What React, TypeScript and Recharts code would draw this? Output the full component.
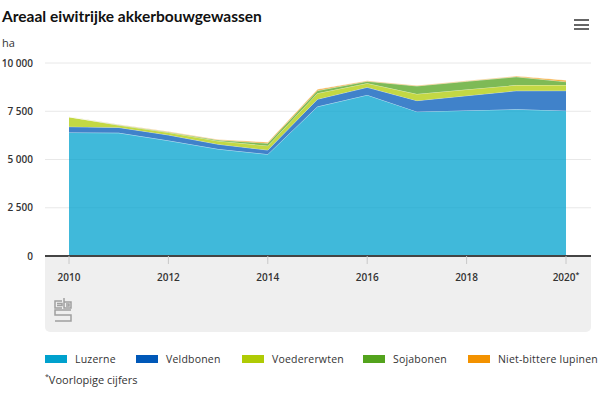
import React from 'react'
import { AreaChart, Area, XAxis, YAxis, CartesianGrid } from 'recharts'

const years = [2010, 2011, 2012, 2013, 2014, 2015, 2016, 2017, 2018, 2019, 2020]
const luzerne = [6400, 6380, 5980, 5540, 5270, 7740, 8340, 7480, 7540, 7600, 7530]
const veldbonen = [300, 280, 290, 250, 220, 385, 400, 570, 765, 960, 1035]
const voedererwten = [510, 120, 130, 170, 225, 310, 210, 345, 325, 295, 295]
const sojabonen = [0, 20, 30, 50, 125, 135, 100, 415, 420, 430, 170]
const lupinen = [0, 10, 20, 30, 60, 70, 35, 30, 30, 35, 80]

const xTicks = [2010, 2012, 2014, 2016, 2018, 2020]
const provisional = [2020]
const yTicks = [0, 2500, 5000, 7500, 10000]

const seriesNames = ['Luzerne', 'Veldbonen', 'Voedererwten', 'Sojabonen', 'Niet-bittere lupinen']
const seriesKeys = ['luzerne', 'veldbonen', 'voedererwten', 'sojabonen', 'lupinen']
const seriesColors = ['#00a1cd', '#0058b8', '#afcb05', '#53a31d', '#f39200']
const legendLeft = [45, 136, 242, 363, 468]

const data = years.map((year, i) => ({
  year,
  luzerne: luzerne[i],
  veldbonen: veldbonen[i],
  voedererwten: voedererwten[i],
  sojabonen: sojabonen[i],
  lupinen: lupinen[i],
}))

const fmt = (v: number) => String(v).replace(/\B(?=(\d{3})+(?!\d))/g, ' ')

const XTick = (props: any) => {
  const { x, y, payload } = props
  const prov = provisional.includes(payload.value)
  return (
    <text x={x} y={y} dy={15} textAnchor="middle" fill="#333" fontSize={10} fontWeight={600} fontFamily="'Open Sans', sans-serif">
      {payload.value}
      {prov && <tspan fontSize={7} dy={-4}>*</tspan>}
    </text>
  )
}

const CbsLogo = () => (
  <svg width={18} height={26} viewBox="0 0 18 26" style={{ position: 'absolute', left: 54, top: 297 }}>
    <g fill="none" stroke="#a0a0a0" strokeWidth={1.5}>
      <path d="M8 4 H1 V11 H8" />
      <path d="M10 1 V11 H17 V5 H10" />
      <path d="M17 13 H1 V18 H17 V24 H1" />
      <path d="M3 6.5 H8 V8.5 H3" />
      <path d="M12 7 H15 V9 H12" />
    </g>
  </svg>
)

export default function App() {
  return (
    <div style={{ position: 'absolute', left: 0, top: 0, width: 600, height: 395, background: '#fff', fontFamily: "'Open Sans', sans-serif", overflow: 'hidden' }}>
      <div style={{ position: 'absolute', left: 2, top: 7, fontFamily: 'Lato, sans-serif', fontWeight: 700, fontSize: 15.5, color: '#111' }}>
        Areaal eiwitrijke akkerbouwgewassen
      </div>
      <div style={{ position: 'absolute', left: 2, top: 35, fontSize: 11, color: '#333' }}>ha</div>
      {[19, 23.5, 28].map((t) => (
        <div key={t} style={{ position: 'absolute', left: 574, top: t, width: 15, height: 2.2, background: '#666' }} />
      ))}
      <div style={{ position: 'absolute', left: 45, top: 256, width: 546, height: 76, background: '#efefef', borderRadius: '0 0 5px 5px' }} />
      <CbsLogo />
      <div style={{ position: 'absolute', left: 0, top: 0 }}>
        <AreaChart width={600} height={332} data={data} margin={{ top: 63, right: 9, bottom: 0, left: 0 }}>
          <CartesianGrid vertical={false} stroke="#e8e8e8" />
          <YAxis
            width={45}
            domain={[0, 10000]}
            ticks={yTicks}
            tickFormatter={fmt}
            axisLine={false}
            tickLine={false}
            tickSize={8}
            tickMargin={4}
            tick={{ fill: '#333', fontSize: 10, fontWeight: 600, fontFamily: "'Open Sans', sans-serif" }}
          />
          <XAxis
            dataKey="year"
            type="number"
            domain={[2010, 2020]}
            ticks={xTicks}
            height={76}
            padding={{ left: 24, right: 25 }}
            axisLine={{ stroke: '#444', strokeWidth: 2 }}
            tickLine={{ stroke: '#c8c8c8' }}
            tickSize={8}
            tickMargin={2}
            tick={<XTick />}
          />
          {seriesKeys.map((k, i) => (
            <Area
              key={k}
              type="linear"
              dataKey={k}
              name={seriesNames[i]}
              stackId="a"
              fill={seriesColors[i]}
              fillOpacity={0.75}
              stroke="#ffffff"
              strokeOpacity={0.55}
              strokeWidth={1}
              dot={false}
              activeDot={false}
              isAnimationActive={false}
            />
          ))}
        </AreaChart>
      </div>
      {seriesNames.map((n, i) => (
        <div key={n} style={{ position: 'absolute', left: legendLeft[i], top: 351, display: 'flex', alignItems: 'center', height: 16 }}>
          <div style={{ width: 22, height: 8, background: seriesColors[i], marginRight: 8 }} />
          <span style={{ fontSize: 10.5, color: '#333', letterSpacing: 0.2, whiteSpace: 'nowrap' }}>{n}</span>
        </div>
      ))}
      <div style={{ position: 'absolute', left: 45, top: 372, fontSize: 11, color: '#333' }}>
        <sup style={{ fontSize: 7 }}>*</sup>Voorlopige cijfers
      </div>
    </div>
  )
}
